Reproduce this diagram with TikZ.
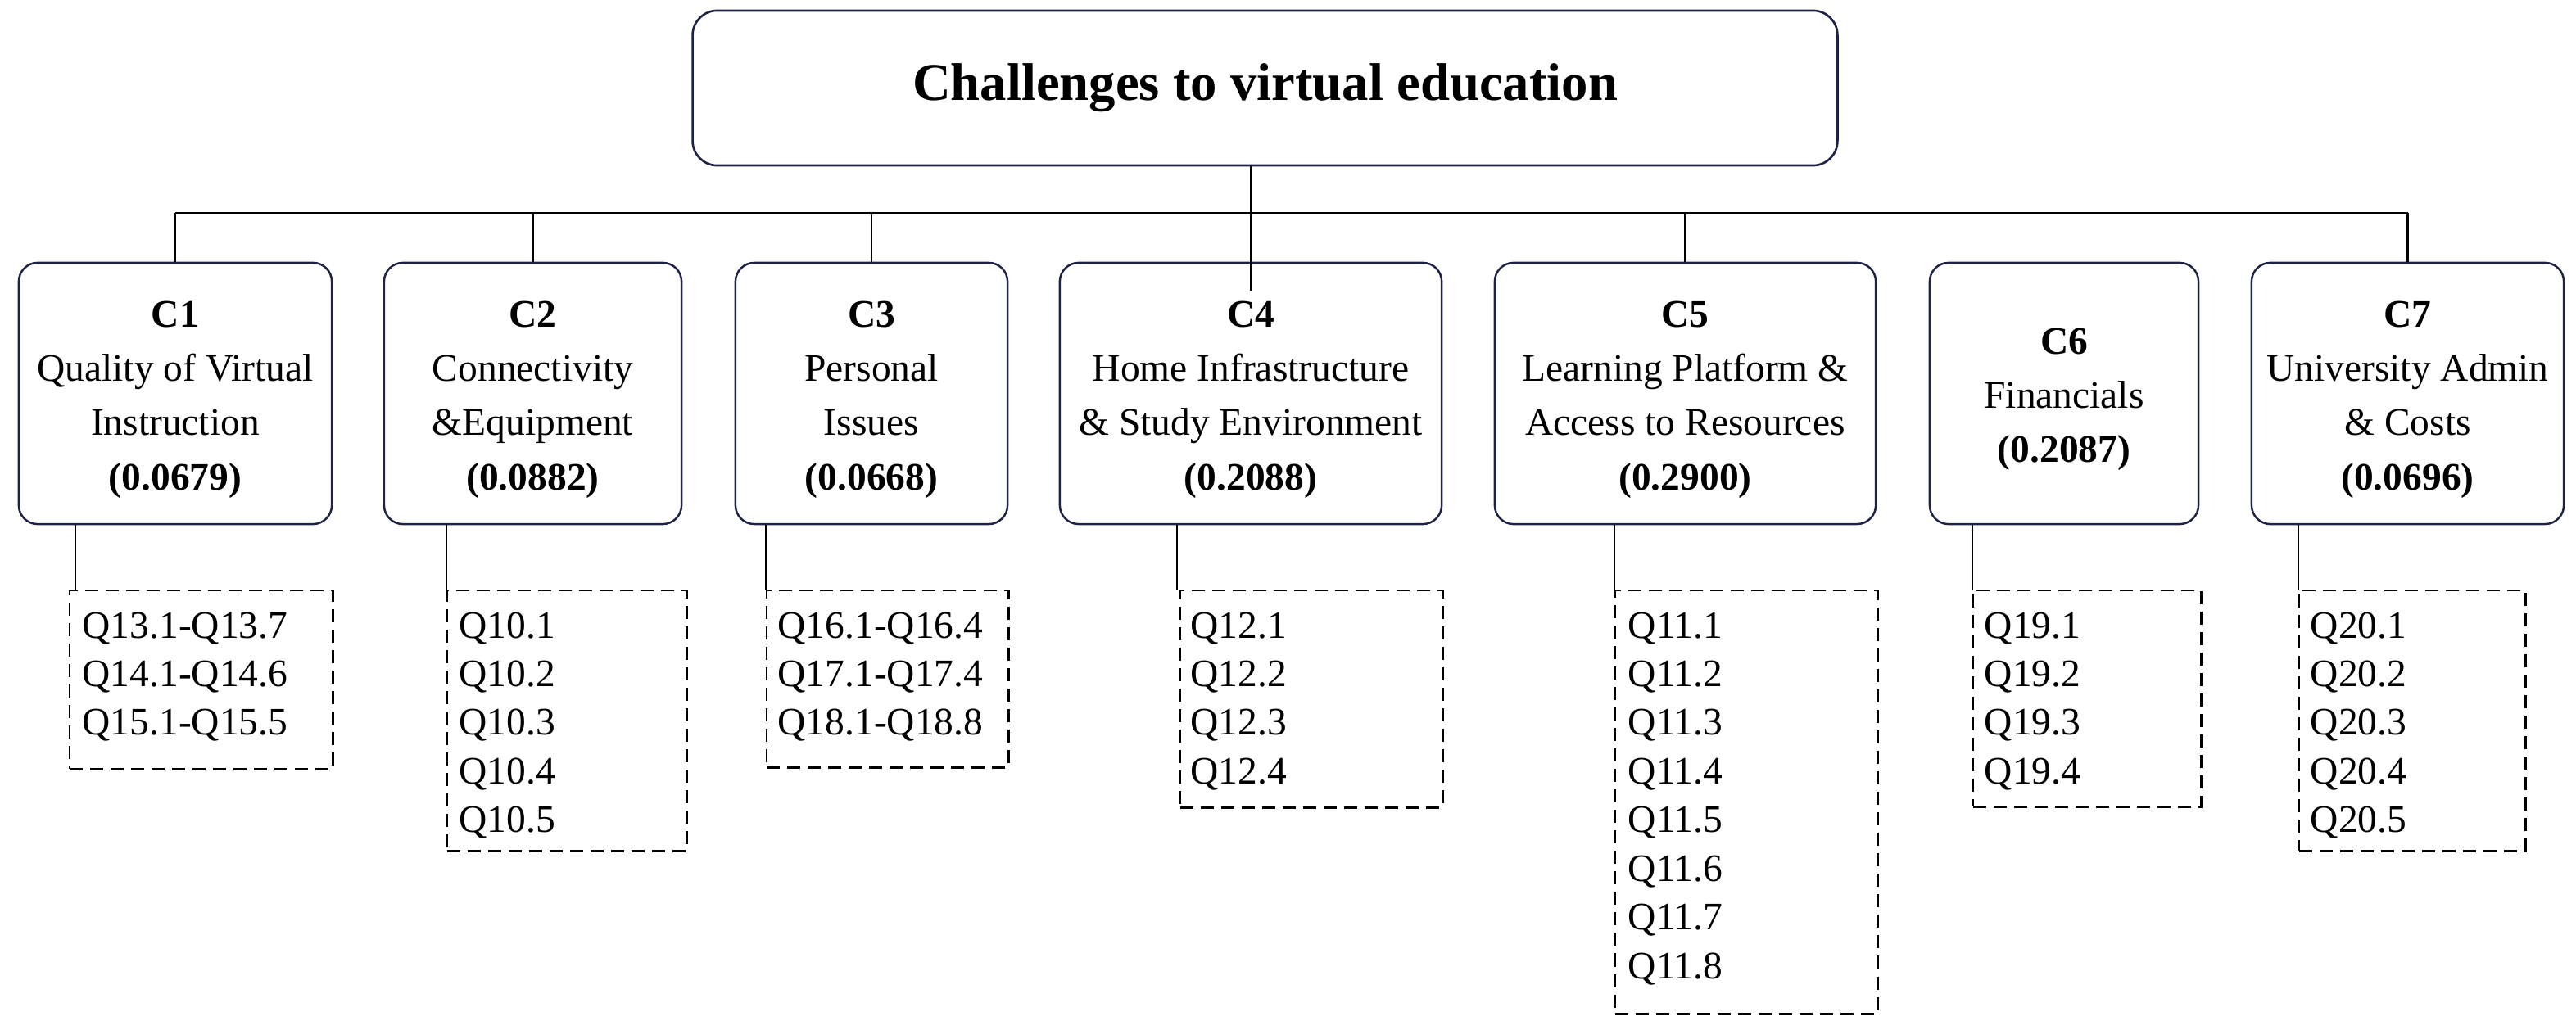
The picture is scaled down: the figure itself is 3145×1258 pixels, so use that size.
\documentclass[tikz,border=0pt]{standalone}
\usepackage{fontspec}
\setmainfont{Liberation Serif}
\definecolor{navy}{RGB}{30,35,70}
\newcommand\toppad{\rule{0pt}{13.3pt}}
\tikzset{
  titlebox/.style={draw=navy, line width=0.75pt, rounded corners=0.3cm, inner sep=0pt,
    minimum width=13.97cm, minimum height=1.89cm, font=\fontsize{18.4}{22}\selectfont\bfseries},
  cbox/.style={draw=navy, line width=0.7pt, rounded corners=0.23cm, inner sep=0pt,
    minimum height=3.19cm, align=center, font=\fontsize{13.5}{18.8}\selectfont},
  dbox/.style={draw=black, line width=0.7pt, dash pattern=on 0.16cm off 0.09cm,
    inner sep=0pt, anchor=north west},
  qtext/.style={inner sep=0pt, anchor=base west, font=\fontsize{13.5}{16.9}\selectfont},
  link/.style={draw=black, line width=0.6pt},
  buslink/.style={draw=black, line width=0.8pt}
}
\begin{document}
\begin{tikzpicture}[x=0.01cm, y=-0.01cm]
\useasboundingbox[fill=white] (0,0) rectangle (3145,1258);

\node[titlebox] (title) at (1544.5,107.5) {Challenges to virtual education};

\node[cbox, minimum width=3.82cm] (c1) at (214,480.5) {\toppad\textbf{C1}\\Quality of Virtual\\Instruction\\\textbf{(0.0679)}};
\node[cbox, minimum width=3.63cm] (c2) at (650.5,480.5) {\toppad\textbf{C2}\\Connectivity\\\&Equipment\\\textbf{(0.0882)}};
\node[cbox, minimum width=3.32cm] (c3) at (1064,480.5) {\toppad\textbf{C3}\\Personal\\Issues\\\textbf{(0.0668)}};
\node[cbox, minimum width=4.66cm] (c4) at (1527,480.5) {\toppad\textbf{C4}\\Home Infrastructure\\\& Study Environment\\\textbf{(0.2088)}};
\node[cbox, minimum width=4.65cm] (c5) at (2057.5,480.5) {\toppad\textbf{C5}\\Learning Platform \&\\Access to Resources\\\textbf{(0.2900)}};
\node[cbox, minimum width=3.28cm] (c6) at (2520,480.5) {\toppad\textbf{C6}\\Financials\\\textbf{(0.2087)}};
\node[cbox, minimum width=3.81cm] (c7) at (2939.5,480.5) {\toppad\textbf{C7}\\University Admin\\\& Costs\\\textbf{(0.0696)}};

\node[dbox, minimum width=3.21cm, minimum height=2.18cm] (d1) at (84,720) {};
\node[dbox, minimum width=2.92cm, minimum height=3.18cm] (d2) at (545,720) {};
\node[dbox, minimum width=2.95cm, minimum height=2.16cm] (d3) at (935,720) {};
\node[dbox, minimum width=3.20cm, minimum height=2.65cm] (d4) at (1440,720) {};
\node[dbox, minimum width=3.20cm, minimum height=5.17cm] (d5) at (1971,720) {};
\node[dbox, minimum width=2.78cm, minimum height=2.64cm] (d6) at (2408,720) {};
\node[dbox, minimum width=2.76cm, minimum height=3.18cm] (d7) at (2806,720) {};

\node[qtext] (q1) at (100,779) {\parbox[t]{3cm}{Q13.1-Q13.7\\Q14.1-Q14.6\\Q15.1-Q15.5}};
\node[qtext] (q2) at (560,779) {\parbox[t]{2.5cm}{Q10.1\\Q10.2\\Q10.3\\Q10.4\\Q10.5}};
\node[qtext] (q3) at (949,779) {\parbox[t]{2.7cm}{Q16.1-Q16.4\\Q17.1-Q17.4\\Q18.1-Q18.8}};
\node[qtext] (q4) at (1453,779) {\parbox[t]{2.5cm}{Q12.1\\Q12.2\\Q12.3\\Q12.4}};
\node[qtext] (q5) at (1987,779) {\parbox[t]{2.5cm}{Q11.1\\Q11.2\\Q11.3\\Q11.4\\Q11.5\\Q11.6\\Q11.7\\Q11.8}};
\node[qtext] (q6) at (2422,779) {\parbox[t]{2.5cm}{Q19.1\\Q19.2\\Q19.3\\Q19.4}};
\node[qtext] (q7) at (2820,779) {\parbox[t]{2.5cm}{Q20.1\\Q20.2\\Q20.3\\Q20.4\\Q20.5}};

\coordinate (bus) at (0,260);
\draw[buslink] (c1.north |- bus) -- (c7.north |- bus);
\draw[link] (title.south -| c4.north) -- ([yshift=-0.35cm]c4.north);
\foreach \c in {c1,c2,c3,c5,c7} {
  \draw[link] (\c.north |- bus) -- (\c.north);
}
\draw[link] ([xshift=0.08cm]d1.north west |- c1.south) -- ([xshift=0.08cm]d1.north west);
\draw[link] (d2.north west |- c2.south) -- (d2.north west);
\draw[link] (d3.north west |- c3.south) -- (d3.north west);
\draw[link] ([xshift=-0.03cm]d4.north west |- c4.south) -- ([xshift=-0.03cm]d4.north west);
\draw[link] (d5.north west |- c5.south) -- (d5.north west);
\draw[link] (d6.north west |- c6.south) -- (d6.north west);
\draw[link] (d7.north west |- c7.south) -- (d7.north west);
\end{tikzpicture}
\end{document}
